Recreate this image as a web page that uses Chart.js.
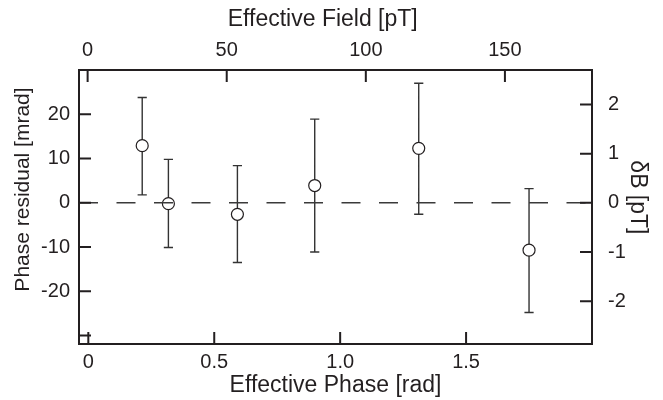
<!DOCTYPE html>
<html>
<head>
<meta charset="utf-8">
<title>Phase residual</title>
<script src="https://cdn.jsdelivr.net/npm/chart.js@4.4.1/dist/chart.umd.min.js"></script>
<style>
  html, body { margin: 0; padding: 0; background: #fff; }
  #wrap { width: 663px; height: 400px; }
</style>
</head>
<body>
<div id="wrap"><canvas id="residChart"></canvas></div>
<script>
// ── Data ──
const phase    = [0.214, 0.318, 0.592, 0.899, 1.312, 1.750];   // rad
const residual = [12.9, -0.2, -2.6, 3.9, 12.3, -10.7];         // mrad
const errLow   = [1.8, -10.1, -13.5, -11.1, -2.6, -24.8];
const errHigh  = [23.8, 9.8, 8.4, 18.9, 27.0, 3.2];

// ── Axes ──
const phaseRange = [-0.037, 2.0];
const fieldRange = [-3.1, 181.3];
const residRange = [-31.9, 30];
const dBRange    = [-2.87, 2.70];

const phaseTicks  = [0, 0.5, 1.0, 1.5];
const phaseLabels = ['0', '0.5', '1.0', '1.5'];
const fieldTicks  = [0, 50, 100, 150];
const residTicks  = [-30, -20, -10, 0, 10, 20, 30];
const residLabels = ['', '-20', '-10', '0', '10', '20', ''];
const dBTicks     = [-2, -1, 0, 1, 2];

const INK = '#231f20';

Chart.defaults.font.family = "'Liberation Sans', Arial, sans-serif";
Chart.defaults.color = INK;

// error bars with caps, drawn under the markers
const errorBars = {
  id: 'errorBars',
  beforeDatasetsDraw(chart) {
    const { ctx, scales: { x, y } } = chart;
    const cap = 4.6;
    ctx.save();
    ctx.strokeStyle = '#333';
    ctx.lineWidth = 1.4;
    ctx.beginPath();
    phase.forEach((p, i) => {
      const px = x.getPixelForValue(p);
      const top = y.getPixelForValue(errHigh[i]);
      const bot = y.getPixelForValue(errLow[i]);
      ctx.moveTo(px, top); ctx.lineTo(px, bot);
      ctx.moveTo(px - cap, top); ctx.lineTo(px + cap, top);
      ctx.moveTo(px - cap, bot); ctx.lineTo(px + cap, bot);
    });
    ctx.stroke();
    ctx.restore();
  }
};

// tick marks pointing into the plot
const innerTicks = {
  id: 'innerTicks',
  afterDraw(chart) {
    const { ctx, chartArea: a, scales } = chart;
    const len = 12;
    ctx.save();
    ctx.strokeStyle = INK;
    ctx.lineWidth = 2;
    ctx.beginPath();
    scales.x.ticks.forEach(t => {
      const px = scales.x.getPixelForValue(t.value);
      ctx.moveTo(px, a.bottom); ctx.lineTo(px, a.bottom - len);
    });
    scales.x2.ticks.forEach(t => {
      const px = scales.x2.getPixelForValue(t.value);
      ctx.moveTo(px, a.top); ctx.lineTo(px, a.top + len);
    });
    scales.y.ticks.forEach(t => {
      const py = scales.y.getPixelForValue(t.value);
      ctx.moveTo(a.left, py); ctx.lineTo(a.left + len, py);
    });
    scales.y2.ticks.forEach(t => {
      const py = scales.y2.getPixelForValue(t.value);
      ctx.moveTo(a.right, py); ctx.lineTo(a.right - len, py);
    });
    ctx.stroke();
    ctx.restore();
  }
};

function setTicks(values) {
  return scale => { scale.ticks = values.map(v => ({ value: v })); };
}

const border = { display: true, color: INK, width: 2 };
const grid = { display: true, drawOnChartArea: false, drawTicks: false };
const tickFont = { size: 20 };
const titleFont = { size: 23 };

const ctx = document.getElementById('residChart').getContext('2d');
new Chart(ctx, {
  type: 'scatter',
  data: {
    datasets: [
      {
        label: 'zero',
        data: phaseRange.map(v => ({ x: v, y: 0 })),
        showLine: true,
        borderColor: '#3a3a3a',
        borderWidth: 1.5,
        borderDash: [19, 18.5],
        pointRadius: 0
      },
      {
        label: 'Phase residual',
        data: phase.map((p, i) => ({ x: p, y: residual[i] })),
        pointRadius: 6,
        pointBackgroundColor: '#fff',
        pointBorderColor: INK,
        pointBorderWidth: 1.2
      }
    ]
  },
  options: {
    responsive: true,
    maintainAspectRatio: false,
    animation: false,
    layout: { padding: 0 },
    plugins: { legend: { display: false }, tooltip: { enabled: false } },
    scales: {
      x: {
        type: 'linear', position: 'bottom',
        min: phaseRange[0], max: phaseRange[1],
        afterBuildTicks: setTicks(phaseTicks),
        afterFit: s => { s.height = 56; },
        ticks: { font: tickFont, padding: 6, autoSkip: false, maxRotation: 0,
                 callback: v => phaseLabels[phaseTicks.indexOf(v)] },
        grid, border,
        title: { display: true, text: 'Effective Phase [rad]', font: titleFont, padding: { top: 0, bottom: 1 } }
      },
      x2: {
        type: 'linear', position: 'top',
        min: fieldRange[0], max: fieldRange[1],
        afterBuildTicks: setTicks(fieldTicks),
        afterFit: s => { s.height = 70; },
        ticks: { font: tickFont, padding: 8, autoSkip: false, maxRotation: 0,
                 callback: v => String(v) },
        grid, border,
        title: { display: true, text: 'Effective Field [pT]    ', font: titleFont, padding: { top: 6, bottom: 0 } }
      },
      y: {
        type: 'linear', position: 'left',
        min: residRange[0], max: residRange[1],
        afterBuildTicks: setTicks(residTicks),
        afterFit: s => { s.width = 79; },
        ticks: { font: tickFont, padding: 9, autoSkip: false,
                 callback: v => residLabels[residTicks.indexOf(v)] },
        grid, border,
        title: { display: true, text: '      Phase residual [mrad]', font: { size: 21 }, padding: { top: 11, bottom: 0 } }
      },
      y2: {
        type: 'linear', position: 'right',
        min: dBRange[0], max: dBRange[1],
        afterBuildTicks: setTicks(dBTicks),
        afterFit: s => { s.width = 71; },
        ticks: { font: tickFont, padding: 16, autoSkip: false,
                 callback: v => String(v) },
        grid, border,
        title: { display: true, text: 'δB [pT]   ', font: titleFont, padding: { top: 12, bottom: 0 } }
      }
    }
  },
  plugins: [errorBars, innerTicks]
});
</script>
</body>
</html>
